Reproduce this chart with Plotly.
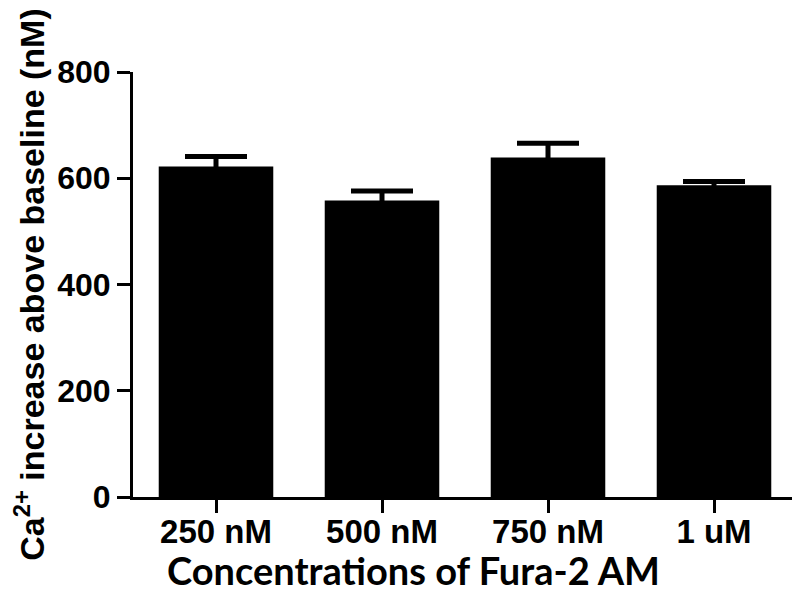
import plotly.graph_objects as go

categories = ["250 nM", "500 nM", "750 nM", "1 uM"]
values = [622, 558, 639, 587]
errors = [19, 18, 27, 7]
y_ticks = [0, 200, 400, 600, 800]
x_title = "Concentrations of Fura-2 AM"
y_title = "Ca<sup>2+</sup> increase above baseline (nM)"

fig = go.Figure()
fig.add_trace(go.Bar(
    x=categories,
    y=values,
    marker=dict(color="black", line=dict(width=0)),
    error_y=dict(type="data", array=errors, symmetric=True,
                 color="black", thickness=5, width=31),
    width=0.69,
))

fig.update_layout(
    width=792, height=587,
    margin=dict(l=125, r=3, t=64, b=98, autoexpand=False),
    paper_bgcolor="white", plot_bgcolor="white",
    showlegend=False,
    font=dict(family="Liberation Sans, Arial", color="black"),
)
fig.add_annotation(
    text=x_title, xref="paper", yref="paper", x=0.422, y=-0.171,
    xanchor="center", yanchor="middle", showarrow=False,
    font=dict(size=38, family="Lato", weight="bold", color="black"),
)
fig.update_xaxes(
    type="category", range=[-0.5, 3.5],
    showline=True, linecolor="black", linewidth=3,
    ticks="outside", ticklen=13, tickwidth=3, tickcolor="black",
    ticklabelstandoff=-10,
    tickfont=dict(size=33, family="Liberation Sans, Arial", weight="bold"),
    showgrid=False, zeroline=False,
)
fig.update_yaxes(
    range=[0, 800], tickvals=y_ticks,
    showline=True, linecolor="black", linewidth=3,
    ticks="outside", ticklen=13, tickwidth=3, tickcolor="black",
    tickfont=dict(size=32, family="Liberation Sans, Arial", weight="bold"),
    showgrid=False, zeroline=False,
    title=dict(text=y_title,
               font=dict(size=34, family="Liberation Sans, Arial", weight="bold"), standoff=34),
)

fig.write_html("out.html")
